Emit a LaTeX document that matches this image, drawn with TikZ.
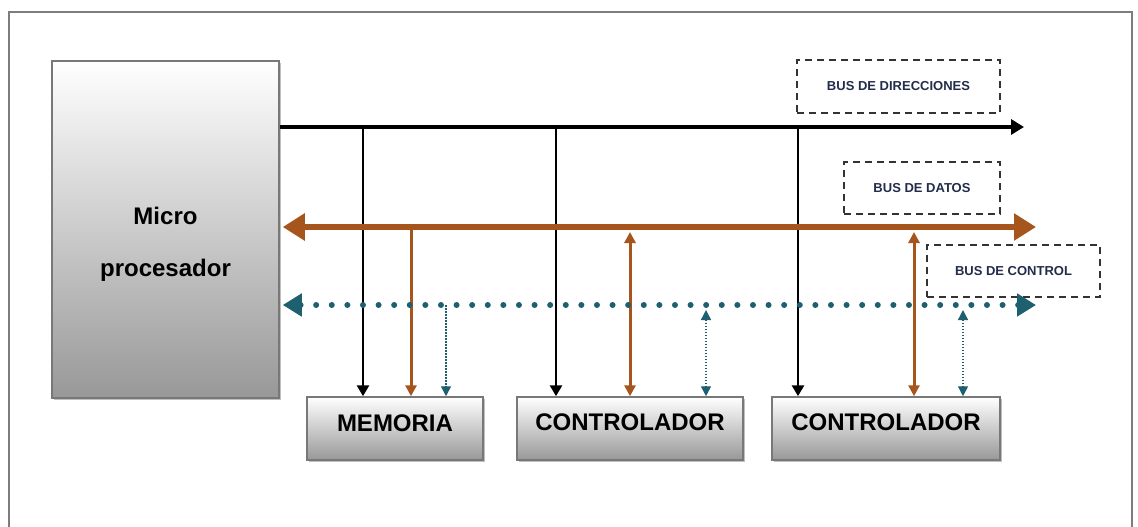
\documentclass[tikz,border=0pt]{standalone}
\usepackage{fontspec}
\setmainfont{Liberation Sans}
\usetikzlibrary{arrows.meta,shadows}
\definecolor{busbrown}{RGB}{166,86,28}
\definecolor{busteal}{RGB}{30,96,112}
\definecolor{framegray}{RGB}{125,125,125}
\definecolor{boxgray}{RGB}{120,120,120}
\definecolor{labeltext}{RGB}{35,45,75}
\tikzset{
  dtip/.tip={Triangle[length=11pt,width=11pt]},
  ctip/.tip={Triangle[length=10pt,width=10pt]}
}
\begin{document}
\begin{tikzpicture}[x=1pt,y=-1pt,
  unit/.style={draw=boxgray, line width=1.5pt, top color=white, bottom color={rgb,255:red,152;green,152;blue,152},
    drop shadow={shadow xshift=2pt,shadow yshift=-2pt,fill=black,opacity=0.25},
    inner sep=0pt, font=\fontsize{24}{28}\selectfont\bfseries},
  buslabel/.style={draw=black!80, line width=1.5pt, dash pattern=on 7pt off 5pt,
    inner sep=0pt, text=labeltext, font=\fontsize{13}{15}\selectfont\bfseries},
  addrbus/.style={black, line width=3.4pt, -{Triangle[length=13pt,width=15pt]}},
  addrv/.style={black, line width=2.8pt, -{Triangle[length=11pt,width=12pt]}},
  databus/.style={busbrown, line width=6pt, {Triangle[length=22pt,width=26pt]}-{Triangle[length=22pt,width=26pt]}},
  datav/.style={busbrown, line width=3pt},
  ctrlbus/.style={busteal, line width=6pt, line cap=round, dash pattern=on 0pt off 15.6pt,
    {Triangle[length=19pt,width=22pt]}-{Triangle[length=19pt,width=22pt]}},
  ctrlv/.style={busteal, line width=1.4pt, dash pattern=on 1.5pt off 1.5pt}
]
\useasboundingbox (0,0) rectangle (1138,527);
% outer frame
\draw[framegray, line width=1.6pt] (9,530) -- (9,12) -- (1132,12) -- (1132,530);

% units
\node[unit, minimum width=227pt, minimum height=337pt,
  label={[font=\fontsize{24}{52}\selectfont\bfseries, align=center, yshift=-15pt]center:Micro\\procesador}]
  (micro) at (165.5,229.5) {};
\node[unit, minimum width=176pt, minimum height=63pt, text depth=10pt] (mem) at (395,428.5) {MEMORIA};
\node[unit, minimum width=226pt, minimum height=63pt, text depth=13pt] (ctrlA) at (630,428.5) {CONTROLADOR};
\node[unit, minimum width=228pt, minimum height=63pt, text depth=13pt] (ctrlB) at (886,428.5) {CONTROLADOR};

% labels
\node[buslabel, minimum width=203pt, minimum height=53pt] (ldir) at (898.5,86.5) {BUS DE DIRECCIONES};
\node[buslabel, minimum width=156pt, minimum height=52pt] (ldat) at (922,188) {BUS DE DATOS};
\node[buslabel, minimum width=173pt, minimum height=52pt] (lctl) at (1013.5,271) {BUS DE CONTROL};

% bus coordinates
\coordinate (aend) at (1024,127);
\coordinate (dend) at (1036,227);
\coordinate (cend) at (1036,305);
\coordinate (a1) at (363,127);
\coordinate (a2) at (556,127);
\coordinate (a3) at (798,127);
\coordinate (d1) at (411,227);
\coordinate (d2) at (630,227);
\coordinate (d3) at (914,227);
\coordinate (c1) at (446,305);
\coordinate (c2) at (706,305);
\coordinate (c3) at (963,305);

% address bus
\draw[addrbus] (micro.east |- aend) -- (aend);
\draw[addrv] (a1) -- (a1 |- mem.north);
\draw[addrv] (a2) -- (a2 |- ctrlA.north);
\draw[addrv] (a3) -- (a3 |- ctrlB.north);

% data bus verticals
\draw[datav, -{dtip}] (d1) -- (d1 |- mem.north);
\draw[datav, {dtip}-{dtip}] ([yshift=-5pt]d2) -- (d2 |- ctrlA.north);
\draw[datav, {dtip}-{dtip}] ([yshift=-5pt]d3) -- (d3 |- ctrlB.north);
% data bus
\draw[databus] ([xshift=3pt]micro.east |- dend) -- (dend);

% control verticals
\draw[ctrlv, -{ctip}] (c1) -- (c1 |- mem.north);
\draw[ctrlv, {ctip}-{ctip}] ([yshift=-5pt]c2) -- (c2 |- ctrlA.north);
\draw[ctrlv, {ctip}-{ctip}] ([yshift=-5pt]c3) -- (c3 |- ctrlB.north);
% control bus
\draw[ctrlbus] ([xshift=3pt]micro.east |- cend) -- (cend);
\end{tikzpicture}
\end{document}
